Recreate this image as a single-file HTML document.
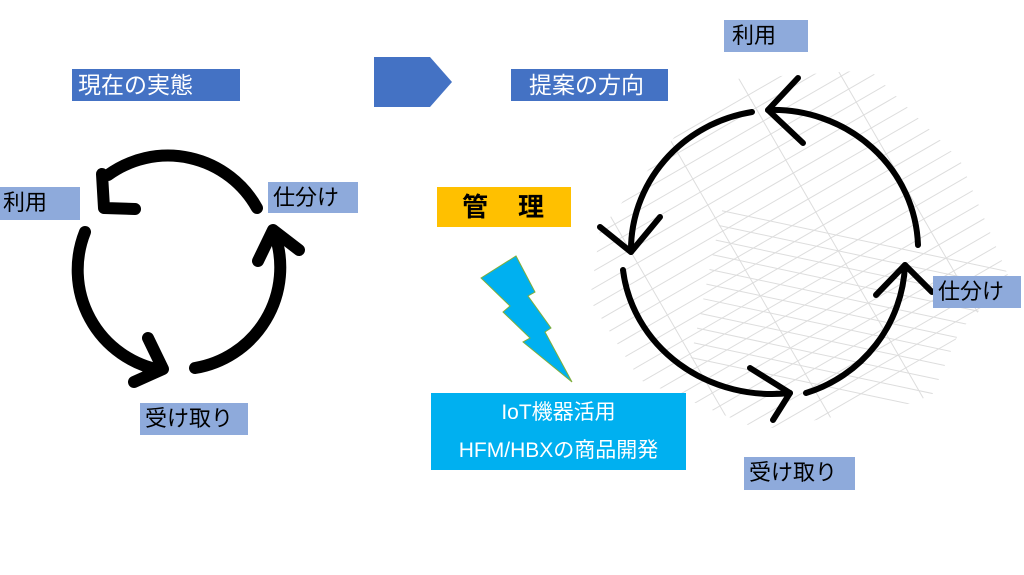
<!DOCTYPE html>
<html><head><meta charset="utf-8"><style>
html,body{margin:0;padding:0;background:#fff;}
body{width:1024px;height:575px;position:relative;overflow:hidden;font-family:"Liberation Sans","Noto Sans CJK JP",sans-serif;}
.l{position:absolute;background:#8eaadb;color:#000;font-size:22px;line-height:32px;padding-left:5px;box-sizing:border-box;white-space:nowrap;}
.b{position:absolute;background:#4472c4;color:#fff;font-size:23px;line-height:32px;padding-left:6px;box-sizing:border-box;white-space:nowrap;}
</style></head><body>
<svg width="1024" height="575" style="position:absolute;left:0;top:0">
<defs><clipPath id="c"><polygon points="600,230 720,80 870,70 960,160 1010,280 960,330 930,400 760,430 640,380 590,300"/></clipPath></defs>
<g clip-path="url(#c)" stroke="#ddd" stroke-width="1">
<g transform="rotate(-30 780 250)">
<path d="M550 100H1010M550 115H1010M550 130H1010M550 145H1010M550 160H1010M550 175H1010M550 190H1010M550 205H1010M550 220H1010M550 235H1010M550 250H1010M550 265H1010M550 280H1010M550 295H1010M550 310H1010M550 325H1010M550 340H1010M550 355H1010M550 370H1010M550 385H1010M550 400H1010M550 415H1010"/>
<path d="M650 60V450M740 60V450M830 60V450M920 60V450"/>
</g>
<g transform="rotate(12 850 330)"><path d="M700 240H1000M700 255H1000M700 270H1000M700 285H1000M700 300H1000M700 315H1000M700 330H1000M700 345H1000M700 360H1000M700 375H1000M700 390H1000"/></g>
</g>
<g fill="none" stroke="#000" stroke-linecap="round" stroke-linejoin="round">
<g stroke-width="12">
<path d="M257 208 A102 102 0 0 0 108 175"/>
<path d="M102 174 L104 208 L135 209"/>
<path d="M85 232 A102 102 0 0 0 160 370"/>
<path d="M148 338 L163 369 L134 382"/>
<path d="M195 368 A102 102 0 0 0 275 235"/>
<path d="M258 261 L273 230 L299 250"/>
</g>
<g stroke-width="6">
<path d="M752 112 A145 140 0 0 0 631 252"/>
<path d="M600 227 L631 252 L660 217"/>
<path d="M623 270 A150 140 0 0 0 790 393"/>
<path d="M750 368 L790 393 L773 420"/>
<path d="M806 393 A140 140 0 0 0 905 265"/>
<path d="M876 295 L905 265 L932 292"/>
<path d="M918 245 A145 140 0 0 0 768 110"/>
<path d="M798 78 L768 110 L803 143"/>
</g>
</g>
<polygon points="374,57 430,57 452,82 430,107 374,107" fill="#4472c4"/>
<polygon points="481,278 516,256 535,292 528,296 551,328 545,332 572,382 523,342 530,338 503,312 510,306" fill="#00b0f0" stroke="#7fae3c" stroke-width="1"/>
</svg>
<div class="b" style="left:72px;top:69px;width:168px;height:32px">現在の実態</div>
<div class="b" style="left:511px;top:69px;width:157px;height:32px;padding-left:18px">提案の方向</div>
<div style="position:absolute;left:437px;top:187px;width:134px;height:40px;background:#ffc000;font-weight:bold;font-size:26px;line-height:40px;text-align:center;letter-spacing:2px">管　理</div>
<div style="position:absolute;left:431px;top:393px;width:255px;height:77px;background:#00b0f0;color:#fff;font-size:21px;line-height:38px;text-align:center;padding-top:1px;box-sizing:border-box">IoT機器活用<br>HFM/HBXの商品開発</div>
<div class="l" style="left:0;top:187px;width:80px;height:33px;padding-left:3px">利用</div>
<div class="l" style="left:268px;top:182px;width:90px;height:31px">仕分け</div>
<div class="l" style="left:140px;top:403px;width:108px;height:32px">受け取り</div>
<div class="l" style="left:724px;top:20px;width:84px;height:32px;padding-left:8px">利用</div>
<div class="l" style="left:933px;top:276px;width:88px;height:32px">仕分け</div>
<div class="l" style="left:744px;top:457px;width:111px;height:33px">受け取り</div>
</body></html>
